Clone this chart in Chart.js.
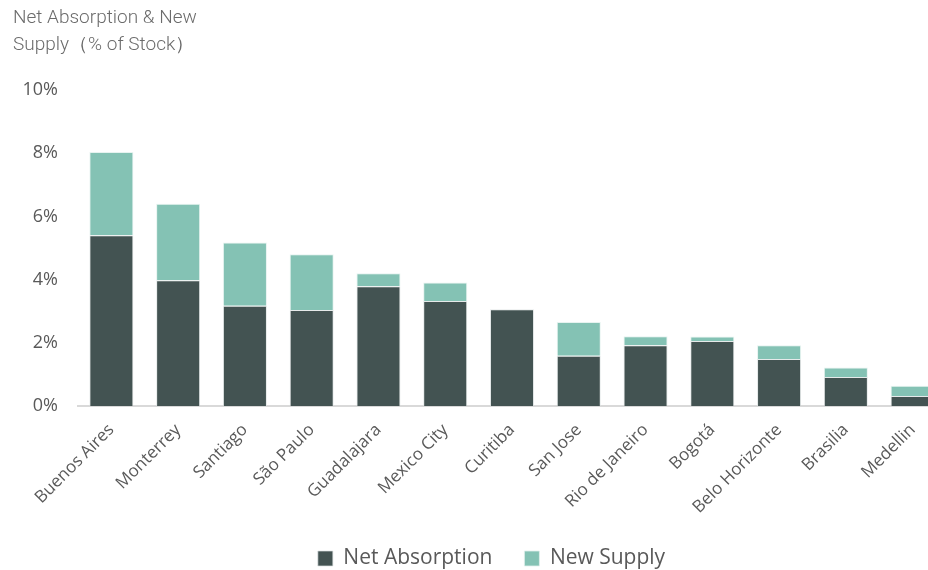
<!DOCTYPE html>
<html>
<head>
<meta charset="utf-8">
<script src="https://cdn.jsdelivr.net/npm/chart.js@4.4.1/dist/chart.umd.min.js"></script>
<style>
  html, body { margin: 0; padding: 0; background: #fff; overflow: hidden; }
  #wrap { width: 946px; height: 570px; position: relative; }
</style>
</head>
<body>
<div id="wrap"><canvas id="absChart"></canvas></div>
<script>
// markets, values (% of stock)
const markets = ['Buenos Aires', 'Monterrey', 'Santiago', 'São Paulo', 'Guadalajara', 'Mexico City',
    'Curitiba', 'San Jose', 'Rio de Janeiro', 'Bogotá', 'Belo Horizonte', 'Brasilia', 'Medellin']
const netAbsorption = [5.40, 3.98, 3.17, 3.04, 3.79, 3.32, 3.06, 1.59, 1.92, 2.06, 1.49, 0.92, 0.32]
const newSupply = [2.64, 2.42, 2.00, 1.76, 0.41, 0.59, 0, 1.07, 0.29, 0.14, 0.43, 0.30, 0.32]
const yTicks = [0, 2, 4, 6, 8, 10]

const grey = '#595959'
const fontFam = "'Open Sans', sans-serif"

// nudge the legend to where the original sits
const legendNudge = {
    id: 'legendNudge',
    afterLayout(chart) {
        const lg = chart.legend
        if (!lg) return
        lg.left += 12; lg.right += 12
        lg.top -= 8
    }
}

const absData = {
    labels: markets,
    datasets: [{
        label: 'Net Absorption',
        data: netAbsorption,
        backgroundColor: '#435352',
        borderColor: 'rgba(220,225,225,0.7)',
        borderWidth: 1,
        borderSkipped: 'bottom'
    }, {
        label: 'New Supply',
        data: newSupply,
        backgroundColor: '#84c2b4',
        borderColor: 'rgba(225,240,236,0.8)',
        borderWidth: 1,
        borderSkipped: 'bottom'
    }]
}

const absConfig = {
    type: 'bar',
    data: absData,
    plugins: [legendNudge],
    options: {
        responsive: true,
        maintainAspectRatio: false,
        animation: false,
        layout: { padding: { left: 13, right: 0, top: 0, bottom: 0 } },
        datasets: { bar: { categoryPercentage: 1, barPercentage: 0.66 } },
        scales: {
            x: {
                stacked: true,
                grid: { display: false, drawTicks: false },
                border: { display: true, color: '#d9d9d9', width: 2 },
                ticks: {
                    color: grey,
                    font: { family: fontFam, size: 17 },
                    minRotation: 45, maxRotation: 45,
                    autoSkip: false,
                    padding: 14
                },
                afterFit: s => { s.height = 118 }
            },
            y: {
                stacked: true,
                min: 0, max: 10,
                afterBuildTicks: s => { s.ticks = yTicks.map(v => ({ value: v })) },
                grid: { display: false, drawTicks: false },
                border: { display: false },
                ticks: {
                    color: grey,
                    font: { family: fontFam, size: 18 },
                    padding: 20,
                    callback: v => v + '%'
                },
                afterFit: s => { s.width = 65 }
            }
        },
        plugins: {
            title: {
                display: true,
                text: ['Net Absorption & New', 'Supply（% of Stock）'],
                align: 'start',
                color: '#6b6b6b',
                font: { family: "Roboto, sans-serif", size: 19, weight: 300, lineHeight: 1.42 },
                padding: { top: 5, bottom: 31 }
            },
            legend: {
                position: 'bottom',
                maxHeight: 46,
                labels: {
                    color: grey,
                    font: { family: fontFam, size: 21 },
                    boxWidth: 15, boxHeight: 15,
                    padding: 32
                }
            },
            tooltip: { enabled: false }
        }
    }
}

var absChart = new Chart(document.getElementById('absChart'), absConfig)
</script>
</body>
</html>
